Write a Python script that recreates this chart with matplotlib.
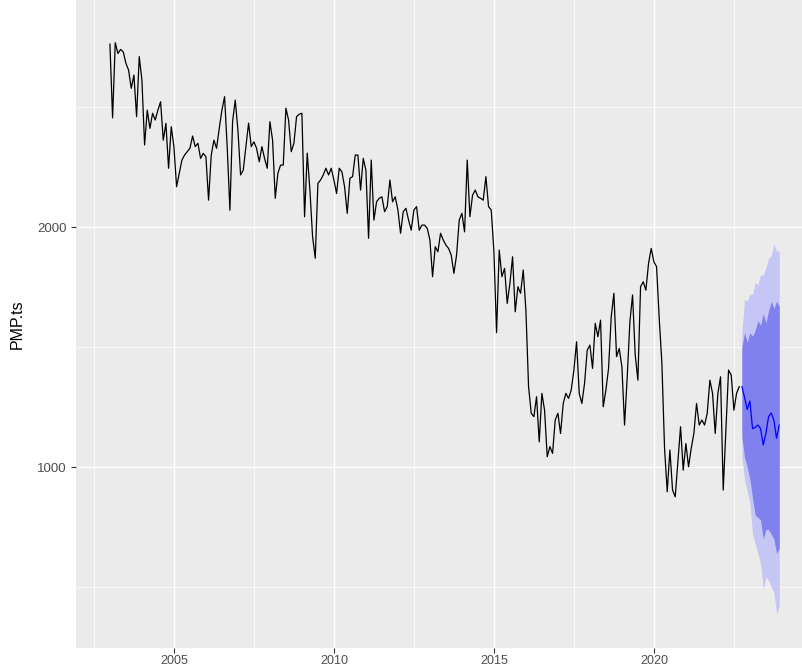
import numpy as np
import matplotlib
matplotlib.use("Agg")
import matplotlib.pyplot as plt
from matplotlib.ticker import MultipleLocator

# monthly series PMP.ts, starting Jan 2003
start_year = 2003
freq = 12
pmp = [2762, 2455, 2768, 2723, 2740, 2730, 2682, 2654, 2578, 2633, 2460, 2710,
       2612, 2342, 2487, 2411, 2474, 2446, 2487, 2522, 2362, 2432, 2245, 2418,
       2335, 2168, 2224, 2279, 2300, 2314, 2328, 2379, 2335, 2349, 2286, 2307,
       2293, 2112, 2300, 2362, 2328, 2411, 2487, 2543, 2330, 2070, 2439, 2529,
       2404, 2217, 2237, 2335, 2433, 2335, 2355, 2328, 2272, 2335, 2286, 2245,
       2439, 2362, 2120, 2224, 2258, 2258, 2495, 2446, 2314, 2349, 2460, 2470,
       2474, 2043, 2308, 2154, 1960, 1870, 2182, 2196, 2217, 2245, 2217, 2245,
       2196, 2140, 2245, 2230, 2168, 2057, 2203, 2210, 2300, 2300, 2154, 2286,
       2237, 1953, 2279, 2029, 2105, 2120, 2126, 2064, 2085, 2196, 2105, 2126,
       2071, 1974, 2064, 2078, 2029, 1987, 2071, 2085, 1987, 2008, 2008, 1995,
       1946, 1793, 1918, 1897, 1974, 1946, 1925, 1911, 1883, 1807, 1883, 2029,
       2057, 1980, 2279, 2043, 2133, 2154, 2126, 2120, 2112, 2210, 2085, 2071,
       1900, 1560, 1904, 1793, 1828, 1682, 1765, 1876, 1647, 1751, 1724, 1821,
       1654, 1335, 1224, 1210, 1293, 1105, 1307, 1237, 1043, 1085, 1057, 1196,
       1224, 1140, 1265, 1307, 1286, 1321, 1404, 1522, 1307, 1265, 1349, 1487,
       1508, 1411, 1599, 1543, 1612, 1251, 1321, 1411, 1626, 1724, 1460, 1494,
       1418, 1175, 1376, 1605, 1717, 1467, 1362, 1751, 1772, 1737, 1849, 1911,
       1855, 1835, 1620, 1432, 1078, 897, 1071, 904, 876, 1022, 1168, 987,
       1098, 1001, 1078, 1140, 1265, 1175, 1196, 1175, 1224, 1362, 1307, 1140,
       1307, 1376, 904, 1154, 1404, 1383, 1237, 1307, 1335]

# forecast (point, 80% and 95% intervals)
fc_mean = [1335, 1290, 1240, 1275, 1160, 1165, 1175, 1160, 1092, 1140, 1210, 1225, 1195, 1120, 1175]
lo80 = [1125, 1040, 1000, 950, 870, 800, 790, 780, 700, 740, 740, 720, 700, 640, 660]
hi80 = [1500, 1560, 1520, 1560, 1545, 1570, 1610, 1590, 1640, 1600, 1650, 1690, 1660, 1690, 1670]
lo95 = [1040, 950, 900, 850, 720, 680, 640, 600, 490, 540, 530, 500, 480, 390, 420]
hi95 = [1560, 1700, 1690, 1720, 1720, 1770, 1760, 1800, 1800, 1830, 1870, 1880, 1930, 1900, 1900]

t = start_year + np.arange(len(pmp)) / freq
tf = start_year + (len(pmp) + np.arange(len(fc_mean))) / freq

fig = plt.figure(figsize=(8.03, 6.66), dpi=100)
ax = fig.add_axes([76 / 803, 18 / 666, 727 / 803, 648 / 666])
ax.set_facecolor("#EBEBEB")
for s in ax.spines.values():
    s.set_visible(False)

ax.fill_between(tf, lo95, hi95, color="#C5C5F6", linewidth=0, zorder=2)
ax.fill_between(tf, lo80, hi80, color="#8080EE", linewidth=0, zorder=3)
ax.plot(t, pmp, color="black", lw=0.9, zorder=4)
ax.plot(tf, fc_mean, color="#0000FF", lw=0.9, zorder=5)

ax.set_xlim(2001.94, 2024.66)
ax.set_ylim(246, 2946)

ax.xaxis.set_major_locator(MultipleLocator(5))
ax.xaxis.set_minor_locator(MultipleLocator(2.5))
ax.yaxis.set_major_locator(MultipleLocator(1000))
ax.yaxis.set_minor_locator(MultipleLocator(500))
ax.grid(which="major", color="white", lw=1.0)
ax.grid(which="minor", color="white", lw=0.5)
ax.set_axisbelow(True)

ax.tick_params(which="major", length=3.5, width=0.8, color="#333333",
               labelcolor="#4D4D4D", labelsize=9.5, pad=3)
ax.tick_params(axis="x", labelsize=9, pad=1.5)
ax.tick_params(which="minor", length=0)
for lab in ax.get_xticklabels() + ax.get_yticklabels():
    lab.set_family("Liberation Sans")

ax.set_ylabel("PMP.ts", family="Liberation Sans", fontsize=11.5, color="black", labelpad=9)

fig.savefig("out.png", dpi=100)
